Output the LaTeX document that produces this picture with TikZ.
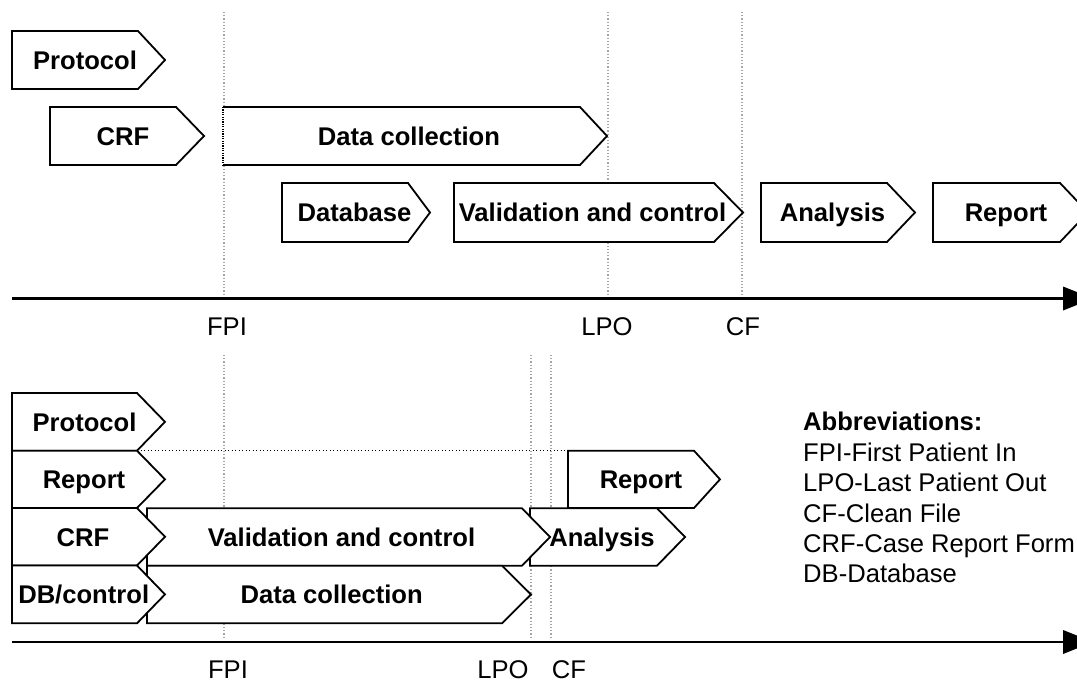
\documentclass[tikz,border=0pt]{standalone}
\usepackage{fontspec}
\setmainfont{Liberation Sans}
\tikzset{
  chev/.style={draw=black, fill=white, line width=1.8pt, line join=miter},
  lbl/.style={font=\fontsize{25.6}{30}\selectfont\bfseries, inner sep=0pt, anchor=base},
  tick/.style={font=\fontsize{25.6}{30}\selectfont, inner sep=0pt, anchor=base},
  abbr/.style={font=\fontsize{25.6}{30}\selectfont, inner sep=0pt, anchor=base west},
  guide/.style={draw=gray!70, line width=1.2pt, dash pattern=on 1.2pt off 2pt},
  axis/.style={draw=black, line width=2.6pt},
  hdot/.style={draw=black, line width=1.2pt, dash pattern=on 1.3pt off 2.2pt},
}
% #1 left, #2 body end, #3 tip, #4 top, #5 bottom
\newcommand\chevshape[5]{\path[chev] (#1,#4) -- (#2,#4) -- (#3,{(#4+#5)/2}) -- (#2,#5) -- (#1,#5) -- cycle;}
\begin{document}
\begin{tikzpicture}[x=1pt,y=-1pt]
\useasboundingbox (0,0) rectangle (1077,682);
\clip (0,0) rectangle (1077,682);
\fill[white] (0,0) rectangle (1077,682);

% ---------------- top section ----------------
\draw[guide] (224,12) -- (224,296);
\draw[guide] (608,12) -- (608,296);
\draw[guide] (742,12) -- (742,296);

\coordinate (ta0) at (12,298.5);
\coordinate (ta1) at (1064,298.5);
\draw[axis] (ta0) -- (ta1);
\fill[black] (1063,286.5) -- (1093,298.5) -- (1063,310.5) -- cycle;

\node[tick] (tfpi) at (227,335) {FPI};
\node[tick] (tlpo) at (607,335) {LPO};
\node[tick] (tcf)  at (743,335) {CF};

\chevshape{12}{138}{165}{31}{89}
\node[lbl] (tprot) at (85,69.2) {Protocol};

\chevshape{50}{176}{204}{107}{165}
\node[lbl] (tcrf) at (123,145.2) {CRF};

\fill[white] (223,107) -- (580,107) -- (607,136) -- (580,165) -- (223,165) -- cycle;
\draw[line width=1.8pt, line join=miter] (223,107) -- (580,107) -- (607,136) -- (580,165) -- (223,165);
\draw[line width=1.6pt, dash pattern=on 1.2pt off 1.2pt] (223,107) -- (223,165);
\node[lbl] (tdc) at (409,145.2) {Data collection};

\chevshape{282}{408}{430}{183}{242}
\node[lbl] (tdb) at (354.5,221.7) {Database};

\chevshape{454}{714}{743}{183}{242}
\node[lbl] (tval) at (592.5,221.7) {Validation and control};

\chevshape{761}{887}{915}{183}{242}
\node[lbl] (tana) at (832.5,221.7) {Analysis};

\chevshape{933}{1060}{1088}{183}{242}
\node[lbl] (trep) at (1006,221.7) {Report};

% ---------------- bottom section ----------------
\draw[guide] (224,355) -- (224,638);
\draw[guide] (531,355) -- (531,638);
\draw[guide] (551,355) -- (551,638);

\coordinate (ba0) at (12,642);
\coordinate (ba1) at (1064,642);
\draw[axis] (ba0) -- (ba1);
\fill[black] (1063,630) -- (1093,642) -- (1063,654) -- cycle;

\node[tick] (bfpi) at (228,678.5) {FPI};
\node[tick] (blpo) at (503,678.5) {LPO};
\node[tick] (bcf)  at (569,678.5) {CF};

\coordinate (hd0) at (137,450.7);
\coordinate (hd1) at (567,450.7);
\draw[hdot] (hd0) -- (hd1);

\chevshape{568}{694}{720}{450.7}{508}
\node[lbl] (brep2) at (641,488.5) {Report};

\chevshape{530}{657}{685}{508.3}{565.7}
\chevshape{147}{522}{550}{508.3}{565.7}
\node[lbl] (bana) at (602,546.2) {Analysis};
\node[lbl] (bval) at (341.5,546.2) {Validation and control};

\chevshape{147}{502}{531}{565.7}{623.3}
\node[lbl] (bdc) at (331.7,603.7) {Data collection};

\chevshape{12}{137}{165}{393}{450.7}
\node[lbl] (bprot) at (84.5,431.2) {Protocol};
\chevshape{12}{137}{165}{450.7}{508}
\node[lbl] (brep) at (84,488.5) {Report};
\chevshape{12}{137}{165}{508}{565.5}
\node[lbl] (bcrf) at (83,546) {CRF};
\chevshape{12}{137}{165}{565.5}{623.3}
\node[lbl] (bdbc) at (83.7,603.6) {DB/control};

% abbreviations
\node[abbr, font=\fontsize{25.6}{30}\selectfont\bfseries] (ab0) at (803,430.7) {Abbreviations:};
\node[abbr] (ab1) at (803,461) {FPI-First Patient In};
\node[abbr] (ab2) at (803,491.5) {LPO-Last Patient Out};
\node[abbr] (ab3) at (803,522) {CF-Clean File};
\node[abbr] (ab4) at (803,552) {CRF-Case Report Form};
\node[abbr] (ab5) at (803,582.5) {DB-Database};
\end{tikzpicture}
\end{document}
